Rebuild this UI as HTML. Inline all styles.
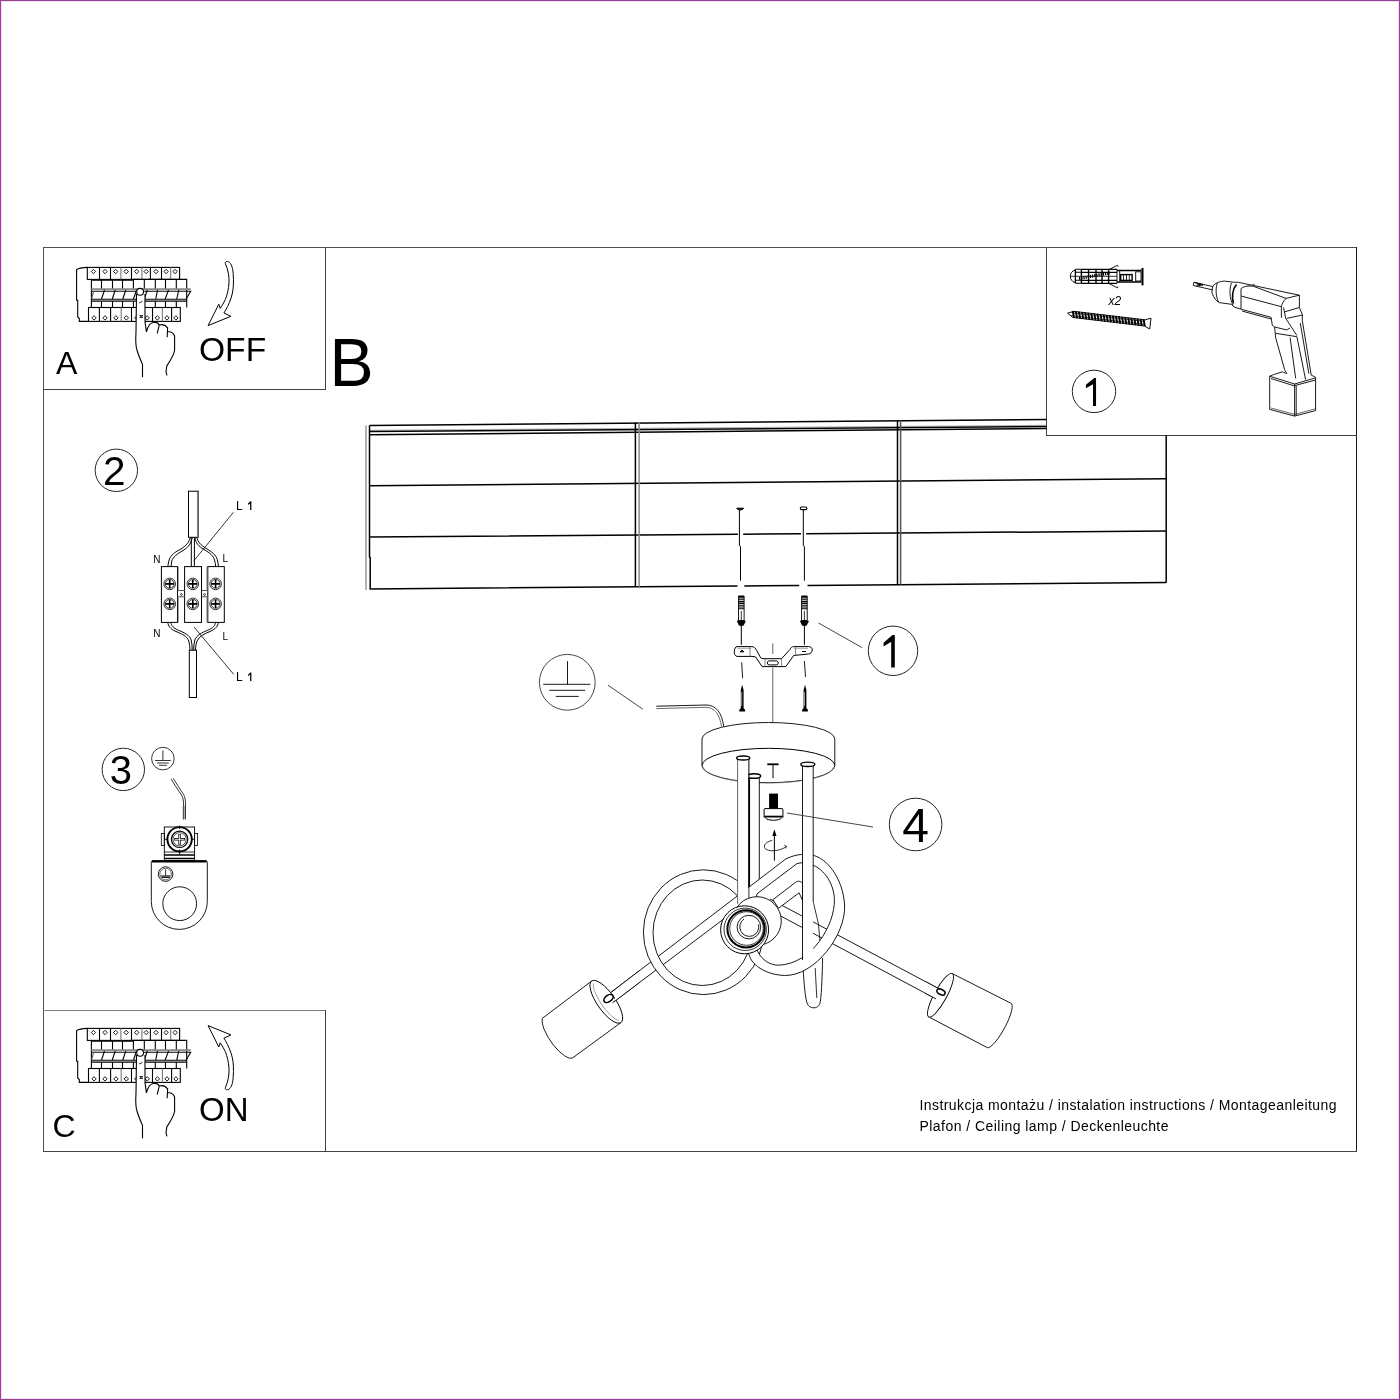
<!DOCTYPE html>
<html><head><meta charset="utf-8">
<style>
html,body{margin:0;padding:0;background:#fff;}
body{width:1400px;height:1400px;overflow:hidden;position:relative;font-family:"Liberation Sans",sans-serif;}
svg{position:absolute;left:0;top:0;}
.g{will-change:transform}
text{font-family:"Liberation Sans",sans-serif;}
</style></head><body>
<svg class="g" width="1400" height="1400" viewBox="0 0 1400 1400">
<!-- base -->
<rect x="1.5" y="1.5" width="1397" height="1397" fill="none" stroke="#ffd4ff" stroke-width="1"/>
<rect x="0.5" y="0.5" width="1399" height="1399" fill="none" stroke="#8a4a8c" stroke-width="1"/>
<g fill="none" stroke-width="1">
<path d="M43 247.5 H1357" stroke="#505050"/>
<path d="M43.5 247 V1152" stroke="#505050"/>
<path d="M1356.5 247 V1152" stroke="#1a1a1a"/>
<path d="M43 1151.5 H1357" stroke="#454545"/>
<path d="M325.5 247 V389.5 M43 389.5 H326" stroke="#404040"/>
<path d="M43 1010.5 H326" stroke="#808080"/>
<path d="M325.5 1010 V1152" stroke="#404040"/>
<path d="M1046.5 247 V435.5 M1046 435.5 H1357" stroke="#404040"/>
</g>
<g fill="#000">
<text x="56" y="374" font-size="32">A</text>
<text x="199" y="361" font-size="33.6">OFF</text>
<text x="52.5" y="1137" font-size="32">C</text>
<text x="199" y="1121" font-size="33">ON</text>
<text transform="translate(329.4 386) scale(0.96 1)" font-size="69">B</text>
<text x="919.5" y="1110.3" font-size="14" textLength="417" lengthAdjust="spacing">Instrukcja montażu / instalation instructions / Montageanleitung</text>
<text x="919.5" y="1130.8" font-size="14" textLength="249" lengthAdjust="spacing">Plafon / Ceiling lamp / Deckenleuchte</text>
</g>
<g fill="none" stroke="#222" stroke-width="1">
<circle cx="116.35" cy="470.3" r="21.2"/>
<circle cx="123.3" cy="769.4" r="21.2"/>
<ellipse cx="1094" cy="391.4" rx="21.7" ry="21.2"/>
<circle cx="893" cy="650.8" r="24.7"/>
<circle cx="915.6" cy="824.5" r="26.3"/>
</g>
<g fill="#000" text-anchor="middle">
<text x="114.15" y="484.6" font-size="40.5">2</text>
<text x="120.9" y="784.2" font-size="40">3</text>
<text x="915.7" y="841.7" font-size="48">4</text>
</g>
<path d="M1096.05 377.9 V405.9 H1093 V384.3 L1085.9 388.2 V384.8 L1094.3 377.9 Z" fill="#000"/>
<path d="M894.8 635 V667.4 H891.2 V641.8 L883.6 646.4 V642.8 L892.4 635 Z" fill="#000"/>

<!-- panel -->
<g id="panel" fill="none" stroke="#000" stroke-width="1.1">
<path d="M87.3 267.4 C82 267.6 78.5 268.2 76.6 269.6 V300.2 H77.7 V317 L79.3 318.6 V321.4 H88.5"/>
<rect x="87.3" y="267.4" width="92.3" height="12"/>
<path d="M99.5 267.4V279.4" stroke="#000"/>
<path d="M110.5 267.4V279.4" stroke="#000"/>
<path d="M120.9 267.4V279.4" stroke="#777"/>
<path d="M131.5 267.4V279.4" stroke="#000"/>
<path d="M141.9 267.4V279.4" stroke="#777"/>
<path d="M150.4 267.4V279.4" stroke="#000"/>
<path d="M161.5 267.4V279.4" stroke="#000"/>
<path d="M170.7 267.4V279.4" stroke="#777"/>
<path d="M91.4 307.5 V280.2 H133.4 V279.4 H186.7 V307.5"/>
<path d="M101.5 280V289 M101.5 301.1V307.5"/>
<path d="M112.5 280V289 M112.5 301.1V307.5"/>
<path d="M122.5 280V289 M122.5 301.1V307.5"/>
<path d="M133.4 280V289 M133.4 301.1V307.5"/>
<path d="M144.3 280V289 M144.3 301.1V307.5"/>
<path d="M155.3 280V289 M155.3 301.1V307.5"/>
<path d="M165.5 280V289 M165.5 301.1V307.5"/>
<path d="M176.3 280V289 M176.3 301.1V307.5"/>
<path d="M91.4 289.2 H190.7" stroke="#888" stroke-width="1.8"/>
<path d="M92 291.3 H190.7 L186 299.2 H91.4 M91.4 301.1 H186.7"/>
<path d="M104.5 290 L101.5 299"/>
<path d="M115.2 290 L112.3 299"/>
<path d="M125.8 290 L122.8 299"/>
<path d="M136.5 290 L133.5 299"/>
<path d="M147.3 290 L144.3 299"/>
<path d="M157.5 290 L155.8 299"/>
<path d="M168.5 290 L165.2 299"/>
<path d="M178.7 290 L176.8 299"/>
<path d="M93.5 291.5 L91.8 298.5" stroke="#666"/>
<rect x="88.5" y="307.5" width="91.8" height="13.9"/>
<path d="M99.4 307.5V321.4" stroke="#000"/>
<path d="M110.6 307.5V321.4" stroke="#000"/>
<path d="M121.2 307.5V321.4" stroke="#777"/>
<path d="M131.5 307.5V321.4" stroke="#000"/>
<path d="M142 307.5V321.4" stroke="#000"/>
<path d="M152.5 307.5V321.4" stroke="#000"/>
<path d="M162.4 307.5V321.4" stroke="#777"/>
<path d="M171.6 307.5V321.4" stroke="#000"/>
<path d="M91.2 271.5 L93.4 269.3 L95.6 271.5 L93.4 273.7Z" stroke-width="0.9"/>
<path d="M102.8 271.5 L105.0 269.3 L107.2 271.5 L105.0 273.7Z" stroke-width="0.9"/>
<path d="M113.5 271.5 L115.7 269.3 L117.9 271.5 L115.7 273.7Z" stroke-width="0.9"/>
<path d="M124.0 271.5 L126.2 269.3 L128.4 271.5 L126.2 273.7Z" stroke-width="0.9"/>
<path d="M134.5 271.5 L136.7 269.3 L138.9 271.5 L136.7 273.7Z" stroke-width="0.9"/>
<path d="M144.0 271.5 L146.2 269.3 L148.3 271.5 L146.2 273.7Z" stroke-width="0.9"/>
<path d="M153.8 271.5 L155.9 269.3 L158.1 271.5 L155.9 273.7Z" stroke-width="0.9"/>
<path d="M163.9 271.5 L166.1 269.3 L168.3 271.5 L166.1 273.7Z" stroke-width="0.9"/>
<path d="M172.9 271.5 L175.1 269.3 L177.3 271.5 L175.1 273.7Z" stroke-width="0.9"/>
<path d="M91.8 317.9 L94.0 315.7 L96.2 317.9 L94.0 320.09999999999997Z" stroke-width="0.9"/>
<path d="M102.8 317.9 L105.0 315.7 L107.2 317.9 L105.0 320.09999999999997Z" stroke-width="0.9"/>
<path d="M113.7 317.9 L115.9 315.7 L118.1 317.9 L115.9 320.09999999999997Z" stroke-width="0.9"/>
<path d="M124.1 317.9 L126.3 315.7 L128.5 317.9 L126.3 320.09999999999997Z" stroke-width="0.9"/>
<path d="M134.6 317.9 L136.8 315.7 L138.9 317.9 L136.8 320.09999999999997Z" stroke-width="0.9"/>
<path d="M145.1 317.9 L147.2 315.7 L149.4 317.9 L147.2 320.09999999999997Z" stroke-width="0.9"/>
<path d="M155.2 317.9 L157.4 315.7 L159.6 317.9 L157.4 320.09999999999997Z" stroke-width="0.9"/>
<path d="M164.8 317.9 L167.0 315.7 L169.2 317.9 L167.0 320.09999999999997Z" stroke-width="0.9"/>
<path d="M173.8 317.9 L175.9 315.7 L178.1 317.9 L175.9 320.09999999999997Z" stroke-width="0.9"/>
<path d="M136.5 294 L136.8 291 L140 288.2 L143.5 290 L145 294 L145 321.7 L146.4 331.8 C148 326 150 323 153 322.5 C156 322 158.5 323 159.2 325 C161 324.5 165 324.5 167.6 327.8 L167.8 331.8 C170 331.5 173 332 174.6 336 L174.6 350.2 C174 355 170 361 166.8 366 L166 372 L167 378 L142.5 378 L142.5 364.4 C141 361 138 354 137 350 C135.5 346 135.5 340 136 332 Z" fill="#fff" stroke="none"/>
<path d="M145 294 L145 321.7 L146.4 331.8 C148 326 150 323 153 322.5 C156 322 158.5 323 159.2 325 M157.2 333.5 C158 330 159 327 159.2 325 C161 324.5 165 324.5 167.6 327.8 L167.2 337.3 M167.8 331.8 C170 331.5 173 332 174.6 336 L174.6 350.2 C174 355 170 361 166.8 366 L166 372 L167 375.3"/>
<path d="M136.5 294 L136 332 C135.5 340 135.5 346 137 350 C138 354 141 361 142.5 364.4 L142.5 377.3"/>
<circle cx="140.1" cy="291.8" r="3.4" fill="#fff"/>
<path d="M139 303 L142.5 301.5 M139.5 315.5 H143 M139.5 317.5 H143 M140 316.5 L142.5 316.2" stroke-width="0.8"/>
</g>
<path id="arrowA" d="M227.6 261.5 C230.5 262 232.6 266 233.2 273.6 C233.8 282 233.4 289 232.2 294 C231 299 228.5 305.5 225.3 310.7 L223.9 313 L230.9 316.3 L208.1 325.6 L218.8 304.2 L220.2 308.4 C222 305.6 224 302.5 225.3 299.6 C227.2 295 228.6 289 229 282.9 C229.3 277 228.3 270 225.3 263.4 C225 262 226 261.3 227.6 261.5 Z" fill="#fff" stroke="#000" stroke-width="1"/>
<use href="#panel" transform="translate(0,761)"/>
<use href="#arrowA" transform="translate(0,1351.2) scale(1,-1)"/>

<!-- item2 -->
<g fill="none" stroke="#000" stroke-width="1">
<rect x="188.5" y="491.2" width="9.7" height="46.1"/>
<path d="M197.6 492 V537" stroke="#888" stroke-width="1.4"/>
<rect x="189.3" y="650.2" width="7.2" height="47.3"/>
<path d="M190.3 537.5 C189 542 187 545 181 549 C175 552 171 555 169.5 559 C168.5 562 168 564 168 566.6"/>
<path d="M192.3 537.5 C191 543 189 547 183 550.5 C177 554 173 557 171.8 561 C171.3 563 171.2 565 171.2 566.6"/>
<path d="M191.3 537.5 V566.6 M194.4 537.5 V566.6"/>
<path d="M194.8 537.5 C196 543 198 546 204 549.5 C210 553 213.5 556 214.5 560 C215.3 562.5 215.5 564.5 215.6 566.6"/>
<path d="M196.8 537.5 C198 542 200.5 545 206 548.3 C212 552 216 555 217.3 559.5 C218 562 218.3 564.5 218.4 566.6"/>
<path d="M167.7 622.4 C168.5 626 170 629 176 631.5 C182 634 187 636 188.8 641 C189.6 644 190 647 190 650.2"/>
<path d="M170.7 622.4 C171.5 625.5 173 628 178.5 630.3 C184.5 632.8 189.5 635 191.2 640 C192 643 192.2 647 192.2 650.2"/>
<path d="M218.4 622.4 C217.8 626 216 629 210 631.5 C204 634 199.5 636 197 641 C196 644 195.5 647 195.5 650.2"/>
<path d="M215.5 622.4 C215 625.5 213.5 628 207.5 630.3 C201.5 632.8 197 635 194.8 640 C194 643 193.7 647 193.7 650.2"/>
<rect x="161.4" y="566.6" width="16.1" height="55.8" fill="#fff"/>
<rect x="184.6" y="566.6" width="16.9" height="55.8" fill="#fff"/>
<rect x="207.8" y="566.6" width="16.5" height="55.8" fill="#fff"/>
<path d="M177.5 590.5 H184.6 M177.5 596.8 H184.6 M201.5 590.5 H207.8 M201.5 596.8 H207.8" stroke="#555"/>
<path d="M178.3 566.6 V590.5 M178.3 596.8 V622.4 M206.9 566.6 V590.5 M206.9 596.8 V622.4" stroke="#777" stroke-width="0.8"/>
<circle cx="181.4" cy="594.5" r="0.9" stroke-width="0.7"/><circle cx="204.5" cy="594.5" r="0.9" stroke-width="0.7"/>
<circle cx="169.7" cy="583.9" r="5.8" stroke-width="0.8"/>
<circle cx="169.7" cy="583.9" r="4.4" stroke-width="0.8"/>
<path d="M165.5 583.9 H173.9 M169.7 579.7 V588.1" stroke-width="1.6"/>
<circle cx="169.7" cy="603.9" r="5.8" stroke-width="0.8"/>
<circle cx="169.7" cy="603.9" r="4.4" stroke-width="0.8"/>
<path d="M165.5 603.9 H173.9 M169.7 599.7 V608.1" stroke-width="1.6"/>
<circle cx="192.8" cy="583.9" r="5.8" stroke-width="0.8"/>
<circle cx="192.8" cy="583.9" r="4.4" stroke-width="0.8"/>
<path d="M188.6 583.9 H197.0 M192.8 579.7 V588.1" stroke-width="1.6"/>
<circle cx="192.8" cy="603.9" r="5.8" stroke-width="0.8"/>
<circle cx="192.8" cy="603.9" r="4.4" stroke-width="0.8"/>
<path d="M188.6 603.9 H197.0 M192.8 599.7 V608.1" stroke-width="1.6"/>
<circle cx="215.6" cy="583.9" r="5.8" stroke-width="0.8"/>
<circle cx="215.6" cy="583.9" r="4.4" stroke-width="0.8"/>
<path d="M211.4 583.9 H219.8 M215.6 579.7 V588.1" stroke-width="1.6"/>
<circle cx="215.6" cy="603.9" r="5.8" stroke-width="0.8"/>
<circle cx="215.6" cy="603.9" r="4.4" stroke-width="0.8"/>
<path d="M211.4 603.9 H219.8 M215.6 599.7 V608.1" stroke-width="1.6"/>
<path d="M233.4 512.3 L194.1 560.5 M233.7 674.3 L194 627" stroke-width="0.8"/>
</g>
<g fill="#000" font-size="10">
<text x="153.3" y="562.6">N</text><text x="222.5" y="561.8">L</text>
<text x="153.3" y="637">N</text><text x="222.5" y="639.5">L</text>
<text x="236" y="509.9" font-size="12">L</text><text x="236" y="681" font-size="12">L</text>
</g>
<path d="M251.4 501.3 V509.9 H250.1 V503.6 L248 504.9 V503.6 L250.3 501.3 Z M251.4 672.4 V681 H250.1 V674.7 L248 676 V674.7 L250.3 672.4 Z" fill="#000"/>
<!-- item3 -->
<g fill="none" stroke="#000" stroke-width="1">
<circle cx="162.9" cy="758.6" r="11.3" stroke="#333"/>
<path d="M162.9 750.5 V760.5 M155 760.5 H170.8 M157 763 H168.8 M159 765.3 H166.8" stroke-width="0.8"/>
<path d="M171.2 779 C174 784 178 790 181.5 795 C183.3 798 183.6 801 183.6 806 V819.3" stroke-width="0.8"/>
<path d="M173.3 778.3 C176 783 180 789 183.6 794.5 C185.2 797.5 185.5 800 185.5 806 V819.3" stroke-width="0.8"/>
<path d="M183.6 806 V819.3" stroke-width="1.6" stroke="#555"/>
<rect x="164.3" y="827" width="30.3" height="33.5" fill="#fff" stroke-width="0.9"/>
<rect x="161.3" y="833.5" width="3" height="12" stroke-width="0.8"/>
<rect x="194.6" y="833.5" width="3" height="12" stroke-width="0.8"/>
<path d="M164.3 852 H194.6" stroke-width="0.8"/>
<path d="M164.3 855 H194.6 M164.3 858.4 H194.6" stroke-width="1.5"/>
<circle cx="179.6" cy="839.3" r="12.2" stroke-width="1.9"/>
<circle cx="179.6" cy="839.3" r="8.2" stroke-width="1.2"/>
<circle cx="179.6" cy="839.3" r="6.6" stroke-width="0.7"/>
<path d="M174.2 839.3 H185 M179.6 833.9 V844.7" stroke-width="2.4"/>
<path d="M174.8 839.3 H184.4 M179.6 834.5 V844.1" stroke="#fff" stroke-width="0.9"/>
<path d="M179.6 825.5 V829 M179.6 849.5 V855 M165 839.3 H168 M191 839.3 H194" stroke-width="0.9"/>
<path d="M151.3 862.5 Q151.3 860.7 153 860.7 H205.5 Q207.3 860.7 207.3 862.5 V901.4 A28 28 0 0 1 151.3 901.4 Z" fill="#fff" stroke-width="0.9"/>
<path d="M152 861.4 H206.6" stroke-width="2.2"/>
<circle cx="179.7" cy="903.7" r="16.9" stroke-width="0.9"/>
<circle cx="165.6" cy="874.1" r="7.3" stroke-width="0.9"/>
<circle cx="165.6" cy="874.1" r="5.8" stroke-width="0.6"/>
<path d="M165.6 869.3 V875.5 M160.8 875.8 H170.4" stroke-width="0.8"/>
<path d="M161.5 877.2 H169.7" stroke-width="1.4"/>
</g>
<!-- topright -->
<g fill="none" stroke="#000" stroke-width="0.9">
<path d="M1117 270.5 H1141.5 M1117 282 H1141.5" stroke-width="1.6"/>
<path d="M1142.5 267.9 V285.4" stroke-width="2"/>
<rect x="1120.7" y="274.6" width="11.4" height="5.8" stroke-width="1.4"/>
<path d="M1123.5 275 V280 M1126.5 275 V280 M1129.3 275 V280" stroke-width="0.8"/>
<rect x="1135.7" y="271.8" width="5.3" height="9.2" stroke-width="0.9"/>
<path d="M1117 269.5 V283.3 M1119.7 270 V282.5" stroke-width="0.9"/>
<path d="M1075 270 C1072 271 1070.3 273.5 1070.3 276.3 C1070.3 279 1072 281.6 1075 282.6" stroke-width="1"/>
<path d="M1075.4 269.3 V283.3" stroke-width="1.3"/>
<path d="M1081.4 269.3 V283.3" stroke-width="1.4"/>
<path d="M1088.6 269.3 V283.3" stroke-width="1.4"/>
<path d="M1096 269.3 V283.3" stroke-width="1.4"/>
<path d="M1102 269.3 V283.3" stroke-width="1.4"/>
<path d="M1108.6 269.3 V283.3" stroke-width="1.4"/>
<path d="M1075.4 269.3 H1081.4 M1075.4 283.3 H1081.4 M1075.4 272.3 H1081.4 M1075.4 280.3 H1081.4" stroke-width="1.1"/>
<path d="M1081.4 269.3 H1088.6 M1081.4 283.3 H1088.6 M1081.4 272.3 H1088.6 M1081.4 280.3 H1088.6" stroke-width="1.2"/>
<path d="M1088.6 269.3 H1096 M1088.6 283.3 H1096 M1088.6 272.3 H1096 M1088.6 280.3 H1096" stroke-width="1.2"/>
<path d="M1096 269.3 H1102 M1096 283.3 H1102 M1096 272.3 H1102 M1096 280.3 H1102" stroke-width="1.2"/>
<path d="M1102 269.3 H1108.6 M1102 283.3 H1108.6 M1102 272.3 H1108.6 M1102 280.3 H1108.6" stroke-width="1.2"/>
<path d="M1108.6 269.3 H1117 M1108.6 283.3 H1117 M1108.6 272.3 H1117 M1108.6 280.3 H1117" stroke-width="1.2"/>
<path d="M1070.5 276.3 H1117" stroke-width="0.8"/>
<path d="M1079 278.5 L1110 273" stroke-width="3" stroke-dasharray="1.3 0.9"/>
<path d="M1108 270 L1117.5 265.3 L1118.2 266.8 M1108 283 L1117.5 287.9 L1118 286.5" stroke-width="0.9"/>
</g>
<text x="1108.5" y="304.6" font-size="12" font-style="italic" fill="#000">x2</text>
<g transform="translate(1067.5 313.2) rotate(6.8)">
<path d="M0 0 L6 -2.6 H78 L83.5 -5 V6 L78 3.6 H6 Z" fill="#fff" stroke="#000" stroke-width="0.9"/>
<path d="M5.0 -2.8 L7.0 3.8 M8.1 -2.8 L10.1 3.8 M11.2 -2.8 L13.2 3.8 M14.3 -2.8 L16.3 3.8 M17.4 -2.8 L19.4 3.8 M20.5 -2.8 L22.5 3.8 M23.6 -2.8 L25.6 3.8 M26.7 -2.8 L28.7 3.8 M29.8 -2.8 L31.8 3.8 M32.9 -2.8 L34.9 3.8 M36.0 -2.8 L38.0 3.8 M39.1 -2.8 L41.1 3.8 M42.2 -2.8 L44.2 3.8 M45.3 -2.8 L47.3 3.8 M48.4 -2.8 L50.4 3.8 M51.5 -2.8 L53.5 3.8 M54.6 -2.8 L56.6 3.8 M57.7 -2.8 L59.7 3.8 M60.8 -2.8 L62.8 3.8 M63.9 -2.8 L65.9 3.8 M67.0 -2.8 L69.0 3.8 M70.1 -2.8 L72.1 3.8 M73.2 -2.8 L75.2 3.8 M76.3 -2.8 L78.3 3.8" stroke="#000" stroke-width="1.9" fill="none"/>
<path d="M4 -1 H78 M4 2 H78" stroke="#000" stroke-width="0.7" fill="none"/>
</g>
<g fill="none" stroke="#000" stroke-width="0.9">
<path d="M1193.9 282.2 L1212.7 286.6 M1193.3 285.5 L1212.7 289.9 M1193.9 282.2 L1193.3 285.5"/>
<path d="M1195 282.6 L1203 285.5 M1196.5 285.6 L1201 283.8 M1198.5 286 L1203 284.2" stroke-width="1.1"/>
<path d="M1213.8 284.9 C1212 287 1211.8 291 1212.1 293.2"/>
<path d="M1213.8 284.9 C1217 282.5 1220 281.3 1224.3 281.1 L1233.7 282.2 L1238.6 282.4"/>
<path d="M1212.1 293.2 C1214 298 1216 301 1219.3 302.6 L1231.5 304.3 L1234.2 307.1 L1241.4 309.3"/>
<path d="M1217.6 282.5 C1215.5 287 1215.5 296 1218.5 302"/>
<path d="M1231.5 283 C1229 289 1229.5 298 1233 305.5"/>
<path d="M1236.5 284.5 C1232.5 289 1231.5 297 1233.5 303.5" stroke-width="1.6"/>
<path d="M1238.6 282.4 L1299.4 295.2"/>
<path d="M1241 288.7 C1243 286.5 1247 285.8 1252.9 286.1 L1286 298.4 L1299.4 295.2"/>
<path d="M1246 286.5 L1255 284" stroke="#555" stroke-width="0.7"/>
<path d="M1241 288.7 V309.3"/>
<path d="M1241.4 296.1 L1281.4 306.7"/>
<path d="M1241.4 309.3 L1271.1 317.3 M1242 311 L1271 319" />
<path d="M1281.4 306.7 V317.8"/>
<path d="M1286 298.4 C1283.5 301 1282 303.5 1281.4 306.7"/>
<path d="M1284.5 311.9 L1299.1 307.6 M1286.8 318.4 L1302.6 315"/>
<path d="M1299.4 295.2 V307.6 L1302.3 314.4 V320.5"/>
<path d="M1283.5 307.5 L1285.8 318.5 L1296.9 335.5"/>
<path d="M1271.1 317.3 L1272.3 325.3 L1274.6 327 L1275.7 337.9 L1284.6 369.6 L1286.8 373.5"/>
<path d="M1274.6 327 L1286.6 329.9 L1290 328.1 M1275.7 333.3 L1296.9 336.7"/>
<path d="M1290.1 337.5 L1295.7 378.5 M1296.9 336.7 L1305.6 379.6"/>
<path d="M1302.3 320.5 L1311.2 375.1 L1315.6 377.3"/>
<path d="M1300.3 323 L1308.8 373.5"/>
<path d="M1269.7 376.2 L1273.5 374.6 L1282.4 371.8 C1285 372.5 1286 374 1286.8 373.5"/>
<path d="M1269.7 376.2 L1294.6 384 L1315.6 377.9"/>
<path d="M1271 378.5 L1294 385.8 L1315.6 380"/>
<path d="M1269.7 376.2 V409.4 L1294.6 416.1 L1315.6 410.6 V377.3"/>
<path d="M1294.6 384 V416.1 M1296.2 385.5 V415.5"/>
<path d="M1271 408 L1294.6 414.4 L1315.6 408.8" stroke-width="0.6"/>
</g>
<!-- ceiling -->
<g fill="none" stroke="#000" stroke-width="1.5">
<path d="M369.5 425.40 L1046.5 419.50"/>
<path d="M369.5 430.30 L1046.5 425.30" stroke="#999" stroke-width="0.8"/>
<path d="M369.5 431.60 L1046.5 426.50"/>
<path d="M369.5 434.70 L1046.5 428.50"/>
<path d="M369.5 485.75 L1166.2 478.75"/>
<path d="M369.5 537.00 L737.9 534.23 M743.2 534.19 L801 533.75 M806.2 533.71 L1166.2 531.00"/>
<path d="M369.5 589.00 L737.5 586.00 M744.3 585.94 L799.3 585.49 M807.5 585.43 L1166.2 582.50"/>
<path d="M366 425.4 V590" stroke="#888" stroke-width="1.3"/>
<path d="M369.5 425.4 V557 L370.2 557.5 V589"/>
<path d="M635.4 422.58 V586.83"/>
<path d="M639.1 422.55 V586.80" stroke="#888"/>
<path d="M897.5 420.30 V584.69"/>
<path d="M900.6 420.27 V584.67" stroke="#555"/>
<path d="M1166.2 435.3 V582.8"/>
</g>
<g fill="none" stroke="#000" stroke-width="1">
<path d="M739.4 510 V545.7 L740.5 546.5 V580.7 M803.3 509.5 V545.7 L804.4 546.5 V580.7"/>
<path d="M736.8 508.2 H743.6 C743 510.5 737.5 510.5 736.8 508.2 Z" fill="#000"/>
<rect x="800.3" y="507" width="6.6" height="2.6" rx="1.3" fill="#fff" stroke-width="1.1"/>
</g>
<!-- lamp -->
<g fill="none" stroke="#000" stroke-width="0.9">
<circle cx="567.3" cy="682.3" r="27.9" stroke="#333"/>
<path d="M567.5 661.2 V684.3 M543.2 684.3 H590.3 M549.2 690.3 H585.2 M555.8 696.4 H578.7"/>
<path d="M608 685.2 L642.8 709.2" stroke="#333"/>
<path d="M656.3 706.2 L706 705 C716 704.8 722 713 723.7 726.5" stroke-width="0.9"/>
<path d="M656.3 708.6 L706 707.3 C714.5 707.2 720 715 721.5 726.8" stroke-width="0.8" stroke="#444"/>
<path d="M818.5 623 L862 647.6" stroke="#333"/>
<rect x="738.5" y="596.5" width="5.6" height="24" fill="#fff" stroke-width="0.9"/>
<path d="M738.5 598.0 H744.0999999999999 M738.5 599.8 H744.0999999999999 M738.5 601.6 H744.0999999999999 M738.5 603.4 H744.0999999999999 M738.5 605.2 H744.0999999999999 M738.5 607.0 H744.0999999999999 M738.5 608.8 H744.0999999999999" stroke-width="1.1"/>
<path d="M738.5 596.5 H744.0999999999999" stroke-width="2"/>
<path d="M741.3 611 V620" stroke-width="0.8"/>
<path d="M737.3 621 H745.3 L743.3 625.3 H739.3 Z" fill="#000"/>
<path d="M741.3 625 V644.8" stroke-width="1"/>
<rect x="801.6" y="596.5" width="5.6" height="24" fill="#fff" stroke-width="0.9"/>
<path d="M801.6 598.0 H807.1999999999999 M801.6 599.8 H807.1999999999999 M801.6 601.6 H807.1999999999999 M801.6 603.4 H807.1999999999999 M801.6 605.2 H807.1999999999999 M801.6 607.0 H807.1999999999999 M801.6 608.8 H807.1999999999999" stroke-width="1.1"/>
<path d="M801.6 596.5 H807.1999999999999" stroke-width="2"/>
<path d="M804.4 611 V620" stroke-width="0.8"/>
<path d="M800.4 621 H808.4 L806.4 625.3 H802.4 Z" fill="#000"/>
<path d="M804.4 625 V644.8" stroke-width="1"/>
<path d="M737 646.6 H751.9 C754 646.8 755.8 648.3 756.6 650.4 L760.7 657.8 C761.5 658.5 762.5 658.7 764 658.7 H781.6 L790 649.4 C791 647.5 792 646.6 793.7 646.6 H808.6 C811 646.6 812.5 648.2 812.3 650 C811.8 652.3 810.5 654 808.6 654 L793.7 655.5 L785.8 666.6 H762.1 L755.6 656.9 L751.9 656.4 H737 C735 656 734 654 734.3 651.3 C734.6 648.5 735.5 646.8 737 646.6 Z" fill="#fff" stroke-width="1"/>
<path d="M750 646.8 V656.3 M765 659 V666.6 M781.6 659 V666.6 M795.6 646.8 V655.3" stroke-width="0.7" stroke="#555"/>
<path d="M737.5 648.3 H751 M794 648.3 H808" stroke-width="0.6" stroke="#666"/>
<rect x="767.3" y="660.9" width="11" height="4" rx="2" stroke-width="1"/>
<path d="M740 651.8 L742 650.3 L744 651.8 Z M802 651.5 H806" fill="#000" stroke-width="1"/>
<path d="M772.8 643.4 V654 M772.8 667.5 V722.5" stroke="#555"/>
<path d="M741.7 662.4 L742.6 678.2 M804.4 661 L805.5 677" stroke-width="0.9"/>
<path d="M742.2 684.7 L743.6 690 V708 L745.2 710 L745.0 711.6 H739.4000000000001 L739.2 710 L740.8000000000001 708 V690 Z" fill="#000" stroke="none"/>
<path d="M741.7 692 V706" stroke="#fff" stroke-width="0.6"/>
<path d="M805 684.7 L806.4 690 V708 L808 710 L807.8 711.6 H802.2 L802 710 L803.6 708 V690 Z" fill="#000" stroke="none"/>
<path d="M804.5 692 V706" stroke="#fff" stroke-width="0.6"/>
<path d="M702 739 A66.4 16.5 0 0 1 834.8 739 V765.5 A66.4 17.2 0 0 1 702 765.5 Z" fill="#fff" stroke-width="0.9"/>
<path d="M702 765.5 A66.4 17.2 0 0 1 834.8 765.5" stroke-width="1"/>
<path d="M703.5 767.5 A65 16.5 0 0 0 833.3 767.5" stroke="#777" stroke-width="0.6"/>
</g><g fill="none" stroke="#000" stroke-width="0.9">
<path d="M770 899.0 L940.3 989.5 L936 998.9 L770 910.3 Z" fill="#fff" stroke="none"/>
<path d="M770 899.0 L940.3 989.5 M770 910.3 L936 998.9"/>
<path d="M772.8 899.8 L795.3 882.5 C798 880.5 801 881 802.5 883.5 V900.5 L799.1 892.8 L778.6 908.2 Z" fill="#fff"/>
<path d="M802.9 962 C803.5 980 805 995 806.5 1001 C807.5 1006 810 1007.8 814 1007.8 C818 1007.8 820 1005 820.6 1000 C821.5 992 822.3 975 822.6 958" fill="#fff"/>
<path d="M815.2 968 L816.8 998" stroke-width="0.8"/>
<path d="M813.2 901.8 L818.4 923.6 L821.5 958" stroke-width="0.8"/>
<path d="M748.9 776 V900 H759.3 V776" fill="#fff" stroke="none"/>
<path d="M748.9 776 V898" stroke-width="1.8"/>
<path d="M759.3 776 V880"/>
<ellipse cx="754.1" cy="776" rx="6.5" ry="2.3" fill="#fff" stroke-width="1.6"/>
<path d="M610 993.1 L738 895.5 L738 908.2 L611 1004.0 Z" fill="#fff" stroke="none"/>
<path d="M610 993.1 L738 895.5 M611 1004.0 L738 908.2"/>
<path fill-rule="evenodd" fill="#fff" d="M643.4 932.2 A60 62.4 0 1 0 763.4 932.2 A60 62.4 0 1 0 643.4 932.2 Z M653 932.75 A49.3 52.75 0 1 0 751.6 932.75 A49.3 52.75 0 1 0 653 932.75 Z"/>
<path fill-rule="evenodd" fill="#fff" stroke="none" d="M737.6 895.8 L786 858.8 C793 855.5 799 854.2 806 854.2 C826 854.2 843 878 844.6 905 C846 935 815 976 784.6 975.5 C770 975 758 969 752 961 C745 950 742 925 748 900.6 L737.6 908.5 Z M757 893.8 L797 863.6 C801 862.4 805 862.5 808 863.8 C822 866 834 882 834.4 899.6 C835 925 812 964 778.6 965.2 C770 965.3 762 960 757.9 951.8 C753 940 752 915 757 893.8 Z"/>
<path d="M737.6 895.8 L786 858.8 C793 855.5 799 854.2 806 854.2 C826 854.2 843 878 844.6 905 C846 935 815 976 784.6 975.5 C770 975 758 969 752 961 C745 950 742 925 748 900.6 L737.6 908.5"/>
<path d="M757 893.8 L797 863.6 C801 862.4 805 862.5 808 863.8 C822 866 834 882 834.4 899.6 C835 925 812 964 778.6 965.2 C770 965.3 762 960 757.9 951.8 C753 940 752 915 757 893.8 Z"/>
<rect x="802.6" y="765" width="10.5" height="192" fill="#fff" stroke="none"/>
<path d="M802.5 764.3 V960 M813.2 764.3 V902"/>
<ellipse cx="807.8" cy="764.3" rx="7" ry="2.2" fill="#fff" stroke-width="1.4"/>
<path d="M737.6 758 V904 H748.4 V758" fill="#fff" stroke="none"/>
<path d="M737.6 758 V904" stroke="#555"/>
<path d="M748.9 758 V777" stroke-width="1"/>
<path d="M748.9 886.6 V898" stroke-width="0.8"/>
<path d="M749.2 777.5 V886.6" stroke-width="1.7"/>
<ellipse cx="743.2" cy="758" rx="6.6" ry="2" fill="#fff" stroke-width="1.3"/>
<circle cx="757" cy="921" r="24.3" fill="#fff"/>
<circle cx="744.6" cy="929.8" r="24" fill="#fff" stroke-width="1"/>
<circle cx="745.2" cy="929.3" r="21.2" stroke-width="0.8"/>
<circle cx="746" cy="928.8" r="18.6" stroke-width="2"/>
<circle cx="746.5" cy="928.5" r="16.8" stroke-width="0.8"/>
<circle cx="748.9" cy="927.1" r="11.8" stroke-width="0.9"/>
<path d="M744 919 A9.5 9.5 0 1 0 758.5 924.5" stroke-width="0.9"/>
<path d="M591.7 981 L542.4 1018.3 A25.4 9 54.9 0 0 572.9 1057.7 L620.9 1022.6 Z" fill="#fff"/>
<ellipse cx="606.3" cy="1001.8" rx="25.4" ry="9" transform="rotate(54.9 606.3 1001.8)" fill="#fff"/>
<path d="M593.5 983.5 A23 6.5 54.9 0 0 618.5 1020.5" stroke="#777" stroke-width="0.7"/>
<path d="M615 989.3 L611.5 992.0 M615 1001.0 L612.5 1002.9"/>
<path d="M615 989.3 L640 970.2 L640 982.1 L615 1001.0 Z" fill="#fff" stroke="none"/>
<path d="M614 990.1 L640 970.2 M614 1001.8 L640 982.1"/>
<ellipse cx="608.5" cy="998.5" rx="3.2" ry="5.2" transform="rotate(54.9 608.5 998.5)" stroke-width="1.6"/>
<path d="M952.3 973.6 L1010.6 1003.1 A24.7 6 118.6 0 1 987.4 1047.7 L928.7 1016.9 Z" fill="#fff"/>
<ellipse cx="940.5" cy="995.25" rx="24.7" ry="6.2" transform="rotate(118.6 940.5 995.25)" fill="#fff"/>
<path d="M925 981.3 L940.3 989.5 L936 998.9 L925 993.1 Z" fill="#fff" stroke="none"/>
<path d="M925 981.3 L940.3 989.5 M925 993.1 L936 998.9"/>
<ellipse cx="941" cy="992" rx="2.6" ry="4.4" transform="rotate(118.6 941 992)" stroke-width="1.5"/>
<path d="M767.3 764.3 H778.6" stroke-width="1.8"/>
<path d="M773 764.3 V778.2" stroke-width="1"/>
<rect x="769.1" y="793.6" width="8.9" height="15" fill="#000" stroke="none"/>
<path d="M764.1 817.5 V809.5 Q764.1 808.6 765 808.6 H782 Q782.9 808.6 782.9 809.5 V817.5" fill="#fff" stroke-width="1"/>
<path d="M764.1 816.6 H782.9" stroke-width="1.8"/>
<path d="M765.5 818 C768 821 779 821 781.5 818" stroke-width="1"/>
<path d="M787 813 L873 827" stroke="#333"/>
<path d="M774.4 831 V860.7" stroke-width="1"/>
<path d="M774.4 829.3 L772.3 836 H776.5 Z" fill="#000" stroke="none"/>
<path d="M772.1 840.4 C766 842 763 845 765 848.5 C768 852 780 851.5 786.4 846.4" stroke-width="0.8"/>
<path d="M786.4 846.4 L784.3 845.2 M786.4 846.4 L785.8 848.5" stroke-width="0.8"/>
</g>
</svg>
</body></html>
